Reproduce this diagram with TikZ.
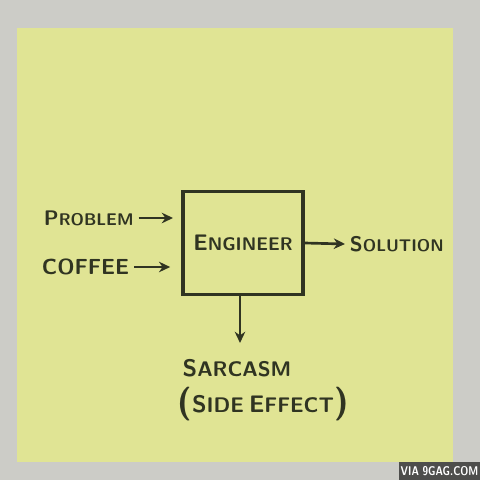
\documentclass[tikz,border=0pt]{standalone}
\usepackage{tikz}
\usetikzlibrary{positioning}
\usetikzlibrary{arrows.meta}

\definecolor{wall}{RGB}{204,204,199}
\definecolor{paper}{RGB}{224,228,148}
\definecolor{ink}{RGB}{48,52,34}
\definecolor{badge}{RGB}{78,78,76}

% hand lettering: big first letter, smaller capitals after it
\newcommand{\hw}[2]{{\fontsize{15}{15}\selectfont #1}{\fontsize{12}{12}\selectfont #2}}
\newcommand{\hwbig}[2]{{\fontsize{17}{17}\selectfont #1}{\fontsize{15}{15}\selectfont #2}}

\begin{document}
\begin{tikzpicture}[x=0.025cm, y=-0.025cm, every node/.style={text=ink, font=\sffamily\bfseries},
    arr/.style={draw=ink, line width=1.9pt, -{Stealth[length=8pt, width=7.5pt]}}]

        % Wall and sticky note
        \fill[wall] (0,0) rectangle (480,480);
        \fill[paper] (17,28) rectangle (453,462);
        \useasboundingbox (0,0) rectangle (480,480);

        % The engineer box
        \node[draw=ink, line width=2.2pt, minimum width=3cm, minimum height=2.58cm] (eng) at (243,243)
            {{\fontsize{16}{16}\selectfont E}{\fontsize{13}{13}\selectfont NGINEER}};

        % Inputs
        \node[anchor=west] (problem) at (39,218) {\hw{P}{ROBLEM}};
        \node[anchor=west] (coffee) at (37,267) {\fontsize{15.5}{15.5}\selectfont COFFEE};

        \draw[arr, shorten >=6pt] (problem) -- (problem -| eng.west);
        \draw[arr, shorten >=8pt] (coffee) -- (coffee -| eng.west);

        % Output
        \node[anchor=west] (solution) at (345,244) {\hw{S}{OLUTION}};
        \draw[arr] (eng.east) -- (solution.west);

        % Side effect
        \node (sarcasm) at (237,368) {\hwbig{S}{ARCASM}};
        \node[below=0pt of sarcasm, xshift=1.3cm/2] (effect) {{\fontsize{24}{24}\selectfont(}\hwbig{S}{IDE} \hwbig{E}{FFECT}{\fontsize{24}{24}\selectfont)}};
        \draw[arr, shorten >=8pt] (eng.south -| 240,0) -- (sarcasm.north -| 240,0);

        % Watermark
        \node[fill=badge, text=white, font=\sffamily\bfseries\fontsize{9}{9}\selectfont, anchor=south east,
              minimum width=2cm, minimum height=0.45cm, inner sep=1pt] (via) at (480,480) {\scalebox{0.8}[1]{VIA 9GAG.COM}};

\end{tikzpicture}
\end{document}
